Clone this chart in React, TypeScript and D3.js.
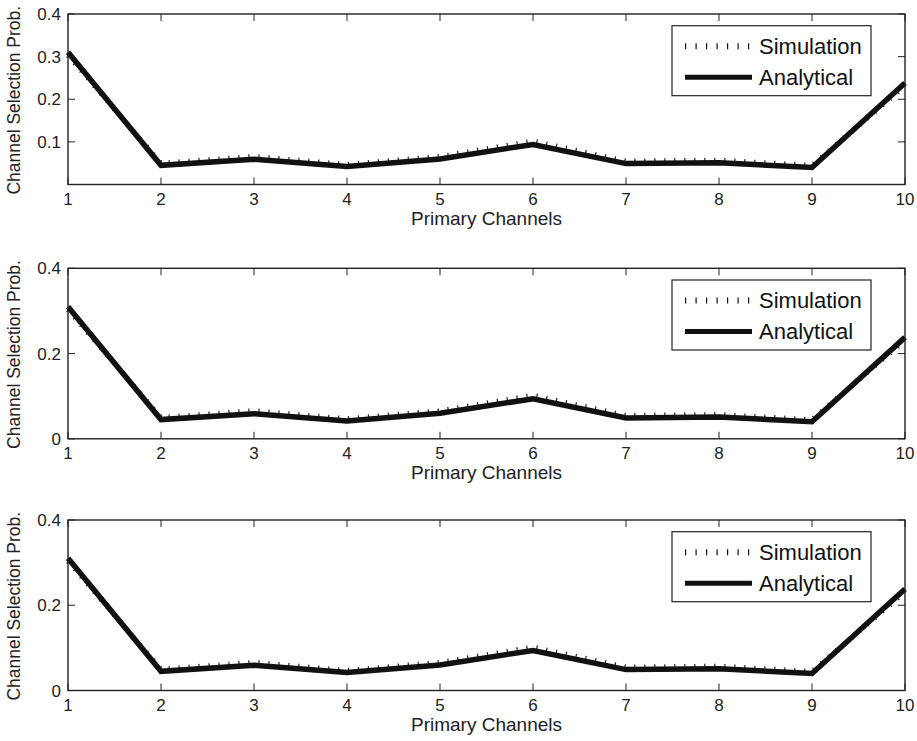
import { useEffect, useRef } from "react";
import * as d3 from "d3";

const channels = [1, 2, 3, 4, 5, 6, 7, 8, 9, 10];
const analytical = [0.31, 0.045, 0.059, 0.042, 0.06, 0.094, 0.049, 0.051, 0.04, 0.238];
const simulation = [0.303, 0.05, 0.066, 0.047, 0.066, 0.102, 0.055, 0.057, 0.045, 0.231];
const yTicksTop = [0.1, 0.2, 0.3, 0.4];
const yTicksOther = [0, 0.2, 0.4];
const panelTicks = [yTicksTop, yTicksOther, yTicksOther];
const seriesNames = ["Simulation", "Analytical"];

const W = 917;
const H = 741;

export default function App() {
  const ref = useRef<SVGSVGElement>(null);

  useEffect(() => {
    const svg = d3.select(ref.current);
    svg.selectAll("*").remove();

    const left = 68;
    const right = 905;
    const tops = [14, 268.3, 520];
    const ph = 170.5;
    const font = "Liberation Sans, Arial, Helvetica, sans-serif";

    const x = d3.scaleLinear().domain([1, 10]).range([left, right]);

    tops.forEach((top, i) => {
      const bottom = top + ph;
      const y = d3.scaleLinear().domain([0, 0.4]).range([bottom, top]);
      const g = svg.append("g");

      // series
      const line = d3
        .line<number>()
        .x((_, j) => x(channels[j]))
        .y((d) => y(d));

      g.append("path")
        .datum(simulation)
        .attr("d", line)
        .attr("fill", "none")
        .attr("stroke", "#222")
        .attr("stroke-width", 5)
        .attr("stroke-dasharray", "1.2 8.8");

      g.append("path")
        .datum(analytical)
        .attr("d", line)
        .attr("fill", "none")
        .attr("stroke", "#111")
        .attr("stroke-width", 5.5)
        .attr("stroke-linejoin", "miter");

      // box
      g.append("rect")
        .attr("x", left)
        .attr("y", top)
        .attr("width", right - left)
        .attr("height", ph)
        .attr("fill", "none")
        .attr("stroke", "#222")
        .attr("stroke-width", 1.4);

      const tl = 7;
      // x ticks (bottom + top, inward)
      channels.forEach((c) => {
        g.append("line")
          .attr("x1", x(c)).attr("x2", x(c))
          .attr("y1", bottom).attr("y2", bottom - tl)
          .attr("stroke", "#222").attr("stroke-width", 1);
        g.append("line")
          .attr("x1", x(c)).attr("x2", x(c))
          .attr("y1", top).attr("y2", top + tl)
          .attr("stroke", "#222").attr("stroke-width", 1);
        g.append("text")
          .attr("x", x(c))
          .attr("y", bottom + 20)
          .attr("text-anchor", "middle")
          .attr("font-family", font)
          .attr("font-size", 17)
          .attr("fill", "#222")
          .text(c);
      });

      // y ticks (left + right, inward)
      panelTicks[i].forEach((t) => {
        g.append("line")
          .attr("x1", left).attr("x2", left + tl)
          .attr("y1", y(t)).attr("y2", y(t))
          .attr("stroke", "#222").attr("stroke-width", 1);
        g.append("line")
          .attr("x1", right).attr("x2", right - tl)
          .attr("y1", y(t)).attr("y2", y(t))
          .attr("stroke", "#222").attr("stroke-width", 1);
        g.append("text")
          .attr("x", left - 7)
          .attr("y", y(t) + 6)
          .attr("text-anchor", "end")
          .attr("font-family", font)
          .attr("font-size", 17)
          .attr("fill", "#222")
          .text(t === 0 ? "0" : d3.format(".1f")(t));
      });

      // axis labels
      g.append("text")
        .attr("x", (left + right) / 2)
        .attr("y", bottom + 40)
        .attr("text-anchor", "middle")
        .attr("font-family", font)
        .attr("font-size", 19)
        .attr("fill", "#222")
        .text("Primary Channels");

      g.append("text")
        .attr("transform", `translate(20,${(top + bottom) / 2 + 1}) rotate(-90)`)
        .attr("text-anchor", "middle")
        .attr("font-family", font)
        .attr("font-size", 17.5)
        .attr("fill", "#222")
        .text("Channel Selection Prob.");

      // legend
      const lx = 672;
      const ly = top + 11.7;
      g.append("rect")
        .attr("x", lx)
        .attr("y", ly)
        .attr("width", 199)
        .attr("height", 70)
        .attr("fill", "white")
        .attr("stroke", "#222")
        .attr("stroke-width", 1.2);

      seriesNames.forEach((name, k) => {
        const cy = ly + 20.5 + k * 31;
        g.append("line")
          .attr("x1", lx + 13)
          .attr("x2", lx + 80)
          .attr("y1", cy)
          .attr("y2", cy)
          .attr("stroke", "#111")
          .attr("stroke-width", k === 0 ? 6 : 5)
          .attr("stroke-dasharray", k === 0 ? "1.2 9.3" : null);
        g.append("text")
          .attr("x", lx + 87)
          .attr("y", cy + 7.5)
          .attr("font-family", font)
          .attr("font-size", 22)
          .attr("fill", "#111")
          .text(name);
      });
    });
  }, []);

  return (
    <svg
      ref={ref}
      width={W}
      height={H}
      style={{ position: "absolute", left: 0, top: 0, background: "white" }}
    />
  );
}
